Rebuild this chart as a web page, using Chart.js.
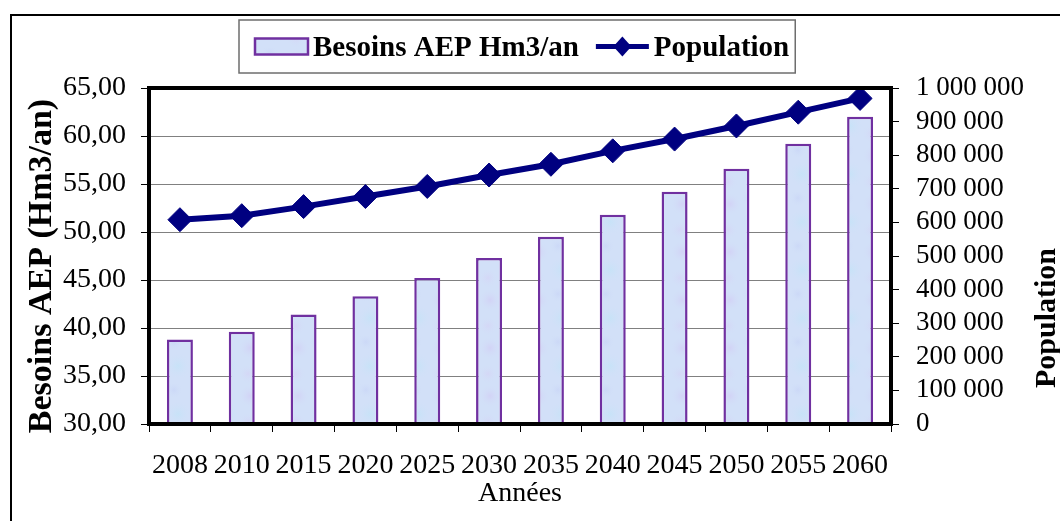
<!DOCTYPE html>
<html lang="fr">
<head>
<meta charset="utf-8">
<title>Besoins AEP et population</title>
<script src="https://cdn.jsdelivr.net/npm/chart.js@4.4.1/dist/chart.umd.min.js"></script>
<style>
  html, body { margin: 0; padding: 0; background: #fff; }
  #wrap { width: 1060px; height: 521px; position: relative; }
</style>
</head>
<body>
<div id="wrap"><canvas id="aepChart"></canvas></div>
<script>
// Horizons de projection
const annees = ['2008', '2010', '2015', '2020', '2025', '2030', '2035', '2040', '2045', '2050', '2055', '2060'];
// Besoins en eau potable (Hm3/an)
const besoinsAEP = [38.8, 39.6, 41.4, 43.3, 45.2, 47.3, 49.5, 51.8, 54.2, 56.6, 59.2, 62.0];
// Population (habitants)
const population = [608000, 620000, 647000, 677000, 707000, 741000, 773000, 813000, 848000, 887000, 928000, 969000];

const SERIF = "'Times New Roman', 'Liberation Serif', serif";
const NAVY = '#000080';
const VIOLET = '#7030A0';

// petite texture bleutée, douce, pour le remplissage des barres
function textureBarres() {
  const c = document.createElement('canvas');
  c.width = 48; c.height = 48;
  const g = c.getContext('2d');
  g.fillStyle = '#d2e0f8';
  g.fillRect(0, 0, 48, 48);
  const taches = [
    { x: 10, y: 12, r: 12, col: 'rgba(210,202,244,0.6)' },
    { x: 34, y: 30, r: 14, col: 'rgba(192,228,247,0.6)' },
    { x: 30, y: 6, r: 9, col: 'rgba(198,210,246,0.55)' },
    { x: 8, y: 38, r: 10, col: 'rgba(214,208,245,0.55)' }
  ];
  taches.forEach(t => {
    const rg = g.createRadialGradient(t.x, t.y, 0, t.x, t.y, t.r);
    rg.addColorStop(0, t.col);
    rg.addColorStop(1, 'rgba(210,224,248,0)');
    g.fillStyle = rg;
    g.fillRect(0, 0, 48, 48);
  });
  return g.createPattern(c, 'repeat');
}
const motif = textureBarres();

const fmtVirgule = v => Number(v).toFixed(2).replace('.', ',');
const fmtMilliers = v => String(Math.round(v)).replace(/\B(?=(\d{3})+(?!\d))/g, ' ');

// cadre extérieur + cadre de la zone de tracé
const cadres = {
  id: 'cadres',
  beforeDraw(chart) {
    const ctx = chart.ctx;
    ctx.save();
    ctx.strokeStyle = '#000';
    ctx.lineWidth = 2;
    ctx.strokeRect(11, 15, 1200, 700);
    ctx.restore();
  },
  afterDatasetsDraw(chart) {
    const { ctx, chartArea: a } = chart;
    ctx.save();
    ctx.strokeStyle = '#000';
    ctx.lineWidth = 4;
    ctx.strokeRect(a.left, a.top, a.right - a.left, a.bottom - a.top);
    ctx.restore();
  }
};

// titres verticaux (lus de bas en haut des deux côtés)
const titresAxes = {
  id: 'titresAxes',
  afterDraw(chart) {
    const ctx = chart.ctx;
    ctx.save();
    ctx.fillStyle = '#000';
    ctx.textAlign = 'center';
    ctx.font = `bold 34px ${SERIF}`;
    ctx.textBaseline = 'middle';
    ctx.translate(42, 266);
    ctx.rotate(-Math.PI / 2);
    ctx.fillText('Besoins AEP (Hm3/an)', 0, 0);
    ctx.restore();

    ctx.save();
    ctx.fillStyle = '#000';
    ctx.textAlign = 'center';
    ctx.font = `bold 30px ${SERIF}`;
    ctx.textBaseline = 'alphabetic';
    ctx.translate(1055, 318);
    ctx.rotate(-Math.PI / 2);
    ctx.fillText('Population', 0, 0);
    ctx.restore();
  }
};

// légende encadrée en haut
const legendeCadre = {
  id: 'legendeCadre',
  afterDraw(chart) {
    const ctx = chart.ctx;
    const [dsBar, dsLine] = chart.data.datasets;
    ctx.save();
    ctx.font = `bold 29px ${SERIF}`;
    const w1 = ctx.measureText(dsBar.label).width;
    const w2 = ctx.measureText(dsLine.label).width;
    const padL = 16, sw = 53, gapT = 5, gapItem = 17, lw = 53, padR = 6;
    const total = padL + sw + gapT + w1 + gapItem + lw + gapT + w2 + padR;
    const x0 = Math.round(517 - total / 2);
    const top = 20, h = 53, cy = 46.5;

    ctx.strokeStyle = '#6e6e6e';
    ctx.lineWidth = 1.5;
    ctx.strokeRect(x0, top, total, h);

    let x = x0 + padL;
    ctx.fillStyle = motif;
    ctx.fillRect(x, cy - 8, sw, 16);
    ctx.strokeStyle = VIOLET;
    ctx.lineWidth = 2.5;
    ctx.strokeRect(x, cy - 8, sw, 16);
    x += sw + gapT;

    ctx.fillStyle = '#000';
    ctx.textBaseline = 'middle';
    ctx.textAlign = 'left';
    ctx.fillText(dsBar.label, x, cy + 2);
    x += w1 + gapItem;

    ctx.strokeStyle = NAVY;
    ctx.lineWidth = 5;
    ctx.beginPath();
    ctx.moveTo(x, cy); ctx.lineTo(x + lw, cy);
    ctx.stroke();
    const mx = x + lw / 2;
    ctx.fillStyle = NAVY;
    ctx.beginPath();
    ctx.moveTo(mx, cy - 10); ctx.lineTo(mx + 9, cy);
    ctx.lineTo(mx, cy + 10); ctx.lineTo(mx - 9, cy);
    ctx.closePath();
    ctx.fill();
    x += lw + gapT;

    ctx.fillStyle = '#000';
    ctx.fillText(dsLine.label, x, cy + 2);
    ctx.restore();
  }
};

new Chart(document.getElementById('aepChart'), {
  type: 'bar',
  data: {
    labels: annees,
    datasets: [
      {
        label: 'Besoins AEP Hm3/an',
        data: besoinsAEP,
        yAxisID: 'y',
        backgroundColor: motif,
        borderColor: VIOLET,
        borderWidth: 2.5,
        barPercentage: 0.42,
        categoryPercentage: 1,
        order: 1
      },
      {
        type: 'line',
        label: 'Population',
        data: population,
        yAxisID: 'y1',
        borderColor: NAVY,
        borderWidth: 6,
        pointStyle: 'rectRot',
        pointRadius: 12,
        pointBackgroundColor: NAVY,
        pointBorderColor: NAVY,
        pointBorderWidth: 1,
        tension: 0,
        order: 0
      }
    ]
  },
  options: {
    responsive: true,
    maintainAspectRatio: false,
    animation: false,
    layout: { padding: { top: 88, left: 0, right: 0, bottom: 0 } },
    plugins: {
      legend: { display: false },
      tooltip: { enabled: false }
    },
    scales: {
      x: {
        offset: true,
        grid: { offset: true, drawOnChartArea: false, color: '#000', tickLength: 8, lineWidth: 1 },
        border: { display: false },
        ticks: { color: '#000', padding: 17, maxRotation: 0, autoSkip: false, font: { family: SERIF, size: 28 } },
        title: { display: true, text: 'Années', color: '#000', padding: { top: 0, bottom: 11 }, font: { family: SERIF, size: 28 } },
        afterFit: s => { s.height = 97; }
      },
      y: {
        position: 'left',
        min: 30,
        max: 65,
        ticks: { stepSize: 5, autoSkip: false, color: '#000', padding: 15, callback: fmtVirgule, font: { family: SERIF, size: 28 } },
        grid: { color: '#808080', lineWidth: 1, tickColor: '#000', tickLength: 8 },
        border: { display: false },
        afterFit: s => { s.width = 149; }
      },
      y1: {
        position: 'right',
        min: 0,
        max: 1000000,
        ticks: { stepSize: 100000, autoSkip: false, color: '#000', padding: 17, callback: fmtMilliers, font: { family: SERIF, size: 27 } },
        grid: { drawOnChartArea: false, color: '#000', tickLength: 8 },
        border: { display: false },
        afterFit: s => { s.width = 169; }
      }
    }
  },
  plugins: [cadres, titresAxes, legendeCadre]
});
</script>
</body>
</html>
